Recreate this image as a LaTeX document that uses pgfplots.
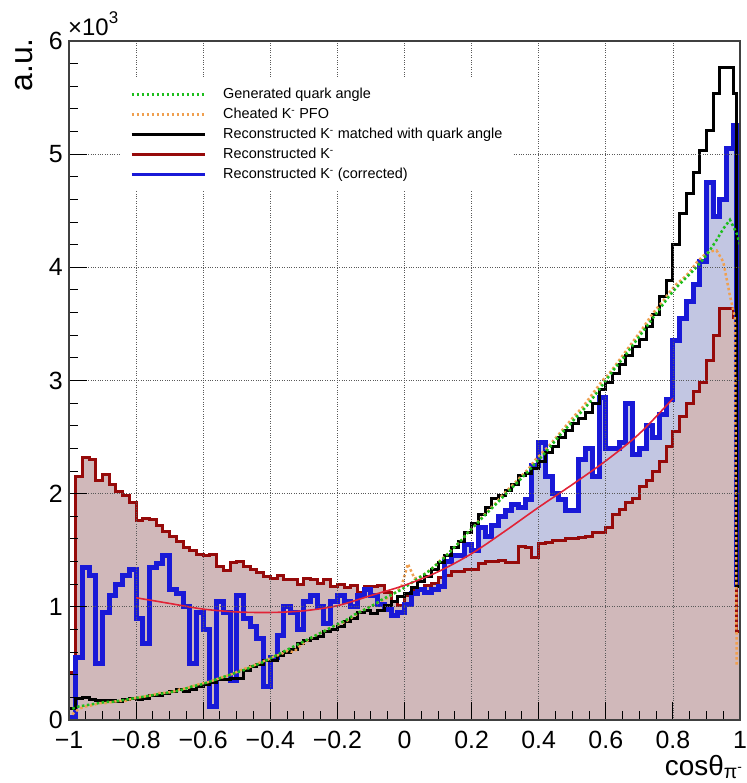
\documentclass[border=0pt]{standalone}
\usepackage{fontspec}
\setmainfont{Liberation Sans}
\usepackage{pgfplots}
\usepackage{pgfplotstable}
\pgfplotsset{compat=1.18}
\definecolor{greenC}{RGB}{30,190,30}
\definecolor{orangeC}{RGB}{240,160,80}
\definecolor{dredC}{RGB}{150,10,10}
\definecolor{blueC}{RGB}{25,25,215}
\definecolor{fitC}{RGB}{225,35,55}
\definecolor{redfill}{RGB}{208,184,186}
\definecolor{bluefill}{RGB}{194,198,226}

\pgfplotstableread{
x y
-1.00 0.42
-0.98 2.15
-0.96 2.32
-0.94 2.30
-0.92 2.12
-0.90 2.17
-0.88 2.08
-0.86 2.02
-0.84 1.98
-0.82 1.92
-0.80 1.76
-0.78 1.78
-0.76 1.77
-0.74 1.72
-0.72 1.67
-0.70 1.62
-0.68 1.58
-0.66 1.52
-0.64 1.50
-0.62 1.46
-0.60 1.45
-0.58 1.46
-0.56 1.36
-0.54 1.32
-0.52 1.39
-0.50 1.40
-0.48 1.36
-0.46 1.33
-0.44 1.30
-0.42 1.27
-0.40 1.25
-0.38 1.28
-0.36 1.24
-0.34 1.24
-0.32 1.20
-0.30 1.25
-0.28 1.24
-0.26 1.21
-0.24 1.24
-0.22 1.18
-0.20 1.20
-0.18 1.17
-0.16 1.19
-0.14 1.13
-0.12 1.18
-0.10 1.18
-0.08 1.19
-0.06 1.13
-0.04 1.05
-0.02 1.01
0.00 1.10
0.02 1.14
0.04 1.15
0.06 1.19
0.08 1.21
0.10 1.26
0.12 1.28
0.14 1.31
0.16 1.31
0.18 1.33
0.20 1.33
0.22 1.38
0.24 1.40
0.26 1.40
0.28 1.41
0.30 1.39
0.32 1.39
0.34 1.53
0.36 1.52
0.38 1.44
0.40 1.56
0.42 1.57
0.44 1.59
0.46 1.59
0.48 1.60
0.50 1.60
0.52 1.61
0.54 1.62
0.56 1.66
0.58 1.66
0.60 1.70
0.62 1.82
0.64 1.86
0.66 1.92
0.68 1.96
0.70 2.06
0.72 2.12
0.74 2.20
0.76 2.28
0.78 2.42
0.80 2.55
0.82 2.68
0.84 2.80
0.86 2.90
0.88 2.98
0.90 3.18
0.92 3.40
0.94 3.64
0.96 3.64
0.98 3.56
0.99 0.78
1.00 0.78
}\recoK

\pgfplotstableread{
x y
-1.00 0.10
-0.98 0.19
-0.96 0.20
-0.94 0.18
-0.92 0.17
-0.90 0.17
-0.88 0.17
-0.86 0.16
-0.84 0.18
-0.82 0.19
-0.80 0.18
-0.78 0.19
-0.76 0.22
-0.74 0.22
-0.72 0.23
-0.70 0.25
-0.68 0.27
-0.66 0.25
-0.64 0.27
-0.62 0.30
-0.60 0.31
-0.58 0.33
-0.56 0.36
-0.54 0.36
-0.52 0.37
-0.50 0.37
-0.48 0.44
-0.46 0.47
-0.44 0.49
-0.42 0.53
-0.40 0.53
-0.38 0.57
-0.36 0.60
-0.34 0.62
-0.32 0.68
-0.30 0.70
-0.28 0.72
-0.26 0.74
-0.24 0.78
-0.22 0.80
-0.20 0.83
-0.18 0.87
-0.16 0.90
-0.14 0.95
-0.12 0.97
-0.10 0.94
-0.08 0.97
-0.06 1.01
-0.04 1.05
-0.02 1.09
0.00 1.12
0.02 1.17
0.04 1.22
0.06 1.27
0.08 1.33
0.10 1.39
0.12 1.45
0.14 1.52
0.16 1.58
0.18 1.66
0.20 1.74
0.22 1.82
0.24 1.88
0.26 1.96
0.28 1.98
0.30 2.03
0.32 2.08
0.34 2.16
0.36 2.18
0.38 2.22
0.40 2.28
0.42 2.36
0.44 2.42
0.46 2.50
0.48 2.56
0.50 2.62
0.52 2.66
0.54 2.72
0.56 2.80
0.58 2.92
0.60 2.98
0.62 3.06
0.64 3.14
0.66 3.22
0.68 3.30
0.70 3.36
0.72 3.48
0.74 3.58
0.76 3.74
0.78 3.88
0.80 4.20
0.82 4.48
0.84 4.65
0.86 4.84
0.88 5.03
0.90 5.21
0.92 5.54
0.94 5.77
0.96 5.77
0.98 5.54
0.99 1.18
1.00 1.18
}\matched

\pgfplotstableread{
x y
-1.00 0.02
-0.98 0.55
-0.96 1.35
-0.94 1.28
-0.92 0.50
-0.90 0.95
-0.88 1.10
-0.86 1.20
-0.84 1.28
-0.82 1.33
-0.80 0.90
-0.78 0.68
-0.76 1.35
-0.74 1.38
-0.72 1.45
-0.70 1.15
-0.68 1.12
-0.66 1.00
-0.64 0.50
-0.62 0.95
-0.60 0.80
-0.58 0.12
-0.56 1.05
-0.54 0.95
-0.52 0.35
-0.50 1.10
-0.48 0.90
-0.46 0.83
-0.44 0.72
-0.42 0.30
-0.40 0.55
-0.38 0.75
-0.36 1.00
-0.34 0.95
-0.32 0.80
-0.30 1.05
-0.28 1.10
-0.26 1.00
-0.24 0.85
-0.22 1.05
-0.20 1.10
-0.18 1.05
-0.16 1.00
-0.14 1.10
-0.12 1.15
-0.10 1.10
-0.08 1.02
-0.06 0.98
-0.04 0.92
-0.02 0.95
0.00 1.02
0.02 1.12
0.04 1.15
0.06 1.13
0.08 1.15
0.10 1.18
0.12 1.40
0.14 1.45
0.16 1.45
0.18 1.55
0.20 1.50
0.22 1.70
0.24 1.62
0.26 1.72
0.28 1.80
0.30 1.85
0.32 1.90
0.34 1.88
0.36 1.95
0.38 2.25
0.40 2.45
0.42 2.15
0.44 2.00
0.46 1.95
0.48 1.85
0.50 1.85
0.52 2.30
0.54 2.40
0.56 2.15
0.58 2.85
0.60 2.40
0.62 2.40
0.64 2.45
0.66 2.80
0.68 2.35
0.70 2.40
0.72 2.60
0.74 2.50
0.76 2.70
0.78 2.83
0.80 3.35
0.82 3.55
0.84 3.70
0.86 3.85
0.88 4.05
0.90 4.75
0.92 4.45
0.94 4.60
0.96 5.05
0.98 5.25
0.99 1.20
1.00 1.20
}\corrected

\pgfplotstableread{
x y
-0.99 0.10
-0.97 0.12
-0.95 0.13
-0.93 0.14
-0.91 0.15
-0.89 0.16
-0.87 0.16
-0.85 0.17
-0.83 0.18
-0.81 0.19
-0.79 0.20
-0.77 0.21
-0.75 0.22
-0.73 0.23
-0.71 0.24
-0.69 0.25
-0.67 0.26
-0.65 0.28
-0.63 0.30
-0.61 0.31
-0.59 0.33
-0.57 0.35
-0.55 0.37
-0.53 0.39
-0.51 0.41
-0.49 0.43
-0.47 0.45
-0.45 0.48
-0.43 0.50
-0.41 0.53
-0.39 0.56
-0.37 0.59
-0.35 0.62
-0.33 0.65
-0.31 0.68
-0.29 0.71
-0.27 0.74
-0.25 0.77
-0.23 0.80
-0.21 0.83
-0.19 0.86
-0.17 0.89
-0.15 0.93
-0.13 0.96
-0.11 0.99
-0.09 1.02
-0.07 1.06
-0.05 1.09
-0.03 1.12
-0.01 1.15
0.01 1.19
0.03 1.23
0.05 1.27
0.07 1.31
0.09 1.36
0.11 1.41
0.13 1.47
0.15 1.53
0.17 1.59
0.19 1.66
0.21 1.72
0.23 1.78
0.25 1.84
0.27 1.90
0.29 1.96
0.31 2.02
0.33 2.08
0.35 2.14
0.37 2.20
0.39 2.27
0.41 2.33
0.43 2.40
0.45 2.47
0.47 2.54
0.49 2.60
0.51 2.67
0.53 2.73
0.55 2.80
0.57 2.88
0.59 2.96
0.61 3.04
0.63 3.12
0.65 3.19
0.67 3.27
0.69 3.35
0.71 3.43
0.73 3.51
0.75 3.59
0.77 3.67
0.79 3.75
0.81 3.82
0.83 3.88
0.85 3.94
0.87 4.00
0.89 4.07
0.91 4.15
0.93 4.24
0.95 4.34
0.97 4.42
0.99 4.30
1.00 4.20
}\generated

\pgfplotstableread{
x y
-0.99 0.05
-0.97 0.10
-0.95 0.12
-0.93 0.13
-0.91 0.15
-0.89 0.15
-0.87 0.16
-0.85 0.17
-0.83 0.17
-0.81 0.19
-0.79 0.20
-0.77 0.21
-0.75 0.22
-0.73 0.24
-0.71 0.24
-0.69 0.25
-0.67 0.27
-0.65 0.28
-0.63 0.30
-0.61 0.32
-0.59 0.33
-0.57 0.35
-0.55 0.37
-0.53 0.39
-0.51 0.41
-0.49 0.44
-0.47 0.46
-0.45 0.48
-0.43 0.51
-0.41 0.53
-0.39 0.56
-0.37 0.58
-0.35 0.61
-0.33 0.60
-0.31 0.66
-0.29 0.70
-0.27 0.74
-0.25 0.77
-0.23 0.80
-0.21 0.83
-0.19 0.85
-0.17 0.88
-0.15 0.92
-0.13 0.96
-0.11 0.99
-0.09 1.02
-0.07 1.05
-0.05 1.08
-0.03 1.12
-0.01 1.17
0.01 1.38
0.03 1.25
0.05 1.27
0.07 1.31
0.09 1.36
0.11 1.42
0.13 1.47
0.15 1.53
0.17 1.59
0.19 1.66
0.21 1.72
0.23 1.79
0.25 1.85
0.27 1.91
0.29 1.98
0.31 2.04
0.33 2.10
0.35 2.16
0.37 2.22
0.39 2.30
0.41 2.36
0.43 2.42
0.45 2.49
0.47 2.56
0.49 2.63
0.51 2.70
0.53 2.76
0.55 2.84
0.57 2.92
0.59 3.00
0.61 3.06
0.63 3.14
0.65 3.22
0.67 3.30
0.69 3.38
0.71 3.46
0.73 3.55
0.75 3.63
0.77 3.70
0.79 3.78
0.81 3.85
0.83 3.90
0.85 3.96
0.87 4.04
0.89 4.10
0.91 4.14
0.93 4.15
0.95 4.05
0.97 3.75
0.985 3.55
0.99 0.50
1.00 0.50
}\cheated

\pgfplotstableread{
x y
-0.8 1.08
-0.7 1.03
-0.6 0.98
-0.5 0.955
-0.4 0.95
-0.3 0.965
-0.2 1.01
-0.1 1.10
0.0 1.19
0.1 1.31
0.2 1.47
0.3 1.67
0.4 1.88
0.5 2.08
0.6 2.29
0.7 2.53
0.8 2.84
}\fitline

\begin{document}
\begin{tikzpicture}
\begin{axis}[
  scale only axis, width=671bp, height=679bp,
  xmin=-1, xmax=1, ymin=0, ymax=6,
  axis on top,
  tick align=inside, tick pos=left,
  xtick={-1,-0.8,-0.6,-0.4,-0.2,0,0.2,0.4,0.6,0.8,1},
  xticklabels={−1,−0.8,−0.6,−0.4,−0.2,0,0.2,0.4,0.6,0.8,1},
  ytick={0,1,2,3,4,5,6},
  yticklabels={0,1,2,3,4,5,6},
  minor x tick num=3, minor y tick num=4,
  major tick length=18bp, minor tick length=9bp,
  grid=major,
  major grid style={black!65, dotted, line width=0.8bp},
  ticklabel style={font=\fontsize{25}{30}\selectfont},
  xticklabel style={inner sep=0pt, yshift=-11bp},
  yticklabel style={inner sep=0pt, xshift=-6bp},
  axis line style={line width=1.2bp, black!75},
  every tick/.style={black, line width=1bp},
  legend cell align=left,
  legend style={at={(0.076,0.946)}, anchor=north west, draw=none, fill=white,
    inner sep=10bp, font=\fontsize{14.5}{17}\selectfont, row sep=6.5bp, column sep=17bp,
    nodes={inner sep=0pt, text height=10.5bp, text depth=3bp}},
  legend image code/.code={\draw[#1] (0bp,0bp) -- (73bp,0bp);},
]
\addlegendimage{greenC, line width=2.5bp, dash pattern=on 2.5bp off 2.5bp}
\addlegendentry{Generated quark angle}
\addlegendimage{orangeC, line width=2.5bp, dash pattern=on 2.5bp off 2.5bp}
\addlegendentry{Cheated K\textsuperscript{-} PFO}
\addlegendimage{black, line width=3bp}
\addlegendentry{Reconstructed K\textsuperscript{-} matched with quark angle}
\addlegendimage{dredC, line width=3bp}
\addlegendentry{Reconstructed K\textsuperscript{-}}
\addlegendimage{blueC, line width=3bp}
\addlegendentry{Reconstructed K\textsuperscript{-} (corrected)}

\addplot[forget plot, const plot, fill=bluefill, draw=none] table[x=x,y=y] {\corrected} \closedcycle;
\addplot[forget plot, const plot, fill=redfill, draw=none] table[x=x,y=y] {\recoK} \closedcycle;
\addplot[forget plot, const plot, dredC, line width=3bp] table[x=x,y=y] {\recoK};
\addplot[forget plot, const plot, blueC, line width=5bp] table[x=x,y=y] {\corrected};
\addplot[forget plot, const plot, black, line width=3bp] table[x=x,y=y] {\matched};
\addplot[forget plot, orangeC, line width=2.5bp, dash pattern=on 2.5bp off 2.5bp] table[x=x,y=y] {\cheated};
\addplot[forget plot, greenC, line width=2.5bp, dash pattern=on 2.5bp off 2.5bp] table[x=x,y=y] {\generated};
\addplot[forget plot, fitC, line width=1.6bp, smooth] table[x=x,y=y] {\fitline};

\coordinate (ll) at (rel axis cs:0,0);
\coordinate (ur) at (rel axis cs:1,1);
\end{axis}
\node[rotate=90, inner sep=0pt, font=\fontsize{32}{36}\selectfont] at ([xshift=-45bp,yshift=-24bp]ll|-ur) {a.u.};
\node[anchor=base west, inner sep=0pt, font=\fontsize{24}{28}\selectfont] at ([xshift=-1bp,yshift=5bp]ll|-ur) {×10\raisebox{12bp}{\fontsize{17}{18}\selectfont 3}};
\node[anchor=base east, inner sep=0pt, font=\fontsize{28}{32}\selectfont] at ([xshift=3bp,yshift=-55bp]ur|-ll) {cosθ\textsubscript{π\textsuperscript{-}}};
\pgfresetboundingbox
\path ([xshift=-69bp,yshift=-63bp]ll) rectangle ([xshift=7bp,yshift=41bp]ur);
\end{tikzpicture}
\end{document}
